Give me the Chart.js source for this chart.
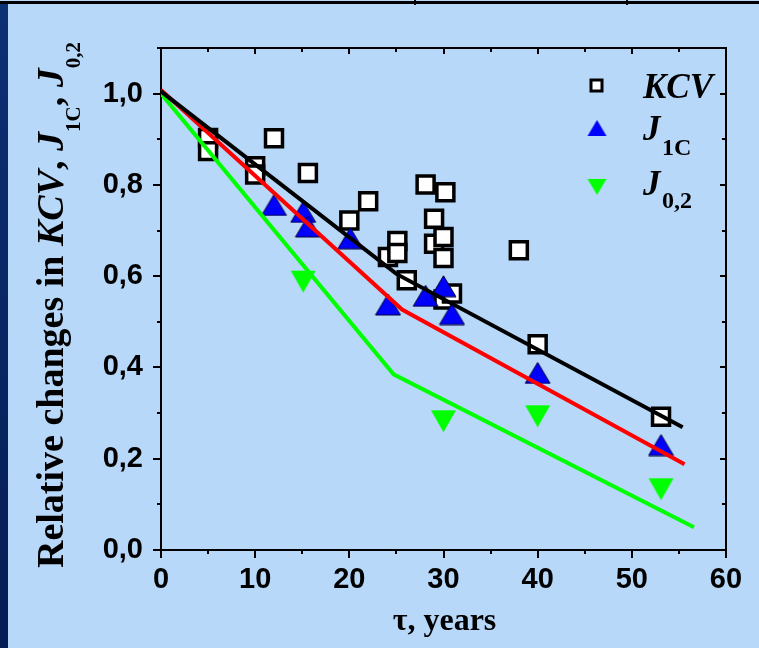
<!DOCTYPE html>
<html>
<head>
<meta charset="utf-8">
<script src="https://cdn.jsdelivr.net/npm/chart.js@4.4.1/dist/chart.umd.min.js"></script>
<style>
  html, body { margin: 0; padding: 0; }
  body { width: 759px; height: 648px; background: #b8d8fa; position: relative; overflow: hidden; }
  #sideBar { position: absolute; left: 0; top: 4px; width: 8px; height: 644px; background: linear-gradient(#0d2f74, #061d54); }
  #topLine { position: absolute; left: 0; top: 1px; width: 759px; height: 3px; background: #000; }
  .sep { position: absolute; top: 0; width: 2px; height: 5px; background: #000; }
  #wrap { position: absolute; left: 0; top: 0; width: 759px; height: 648px; }
</style>
</head>
<body>
<div id="sideBar"></div>
<div id="topLine"></div>
<div class="sep" style="left:414px"></div>
<div class="sep" style="left:626px"></div>
<div id="wrap"><canvas id="chart"></canvas></div>
<script>
// ----- DATA -----
const kcvX = [5.0, 5.0, 10.0, 10.0, 12.0, 15.6, 20.0, 22.0, 24.1, 25.1, 25.1, 26.1, 28.1, 29.0, 29.0, 30.0, 30.0, 30.0, 30.2, 30.9, 38.0, 40.0, 53.1];
const kcvY = [0.903, 0.874, 0.841, 0.823, 0.902, 0.826, 0.722, 0.764, 0.642, 0.677, 0.651, 0.591, 0.801, 0.726, 0.671, 0.686, 0.640, 0.549, 0.784, 0.562, 0.657, 0.451, 0.292];
const j1cX = [12.0, 15.1, 15.6, 20.1, 24.1, 28.1, 30.0, 30.9, 40.0, 53.1];
const j1cY = [0.756, 0.741, 0.709, 0.683, 0.538, 0.557, 0.578, 0.517, 0.388, 0.230];
const j02X = [15.1, 30.0, 40.0, 53.1];
const j02Y = [0.588, 0.282, 0.293, 0.133];

// trend lines (two linear pieces each)
const kcvFitX = [0, 25.0, 55.4];
const kcvFitY = [1.005, 0.605, 0.269];
const j1cFitX = [0, 25.6, 55.6];
const j1cFitY = [1.008, 0.527, 0.188];
const j02FitX = [0, 24.7, 56.6];
const j02FitY = [1.0, 0.385, 0.05];

const xMin = 0, xMax = 60, xStep = 10;
const yMin = 0, yMax = 1.1, yStep = 0.2;

const pts = (xs, ys) => xs.map((v, i) => ({ x: v, y: ys[i] }));

// triangle markers as small canvases so they sit centred on the value
function makeTri(w, h, fill, stroke, down) {
  const c = document.createElement('canvas');
  c.width = w + 2; c.height = h + 2;
  const g = c.getContext('2d');
  g.beginPath();
  if (down) { g.moveTo(1, 1); g.lineTo(w + 1, 1); g.lineTo(w / 2 + 1, h + 1); }
  else { g.moveTo(w / 2 + 1, 1); g.lineTo(w + 1, h + 1); g.lineTo(1, h + 1); }
  g.closePath();
  g.fillStyle = fill; g.fill();
  if (stroke) { g.strokeStyle = stroke; g.lineWidth = 1; g.stroke(); }
  return c;
}
const triUp = makeTri(25, 21, '#0000ff', '#000033', false);
const triDown = makeTri(25, 22, '#00ff00', null, true);
const triUpSmall = makeTri(19, 16, '#0000ff', null, false);
const triDownSmall = makeTri(19, 16, '#00ff00', null, true);

const SERIF = '"Liberation Serif", "Times New Roman", serif';
const SANS = '"Liberation Sans", Arial, sans-serif';

// ----- frame + ticks on all four sides -----
const axisDecor = {
  id: 'axisDecor',
  beforeDatasetsDraw(chart) {
    const { ctx, chartArea: a, scales: { x, y } } = chart;
    ctx.save();
    ctx.strokeStyle = '#000';
    ctx.lineWidth = 2;
    ctx.strokeRect(a.left, a.top, a.right - a.left, a.bottom - a.top);
    ctx.beginPath();
    for (let v = xMin; v <= xMax + 1e-9; v += xStep / 2) {
      const px = Math.round(x.getPixelForValue(v));
      const major = Math.abs(v % xStep) < 1e-6;
      ctx.moveTo(px, a.bottom); ctx.lineTo(px, a.bottom + (major ? 8 : 4));
      ctx.moveTo(px, a.top); ctx.lineTo(px, a.top + (major ? 6 : 4));
    }
    for (let k = 0; k <= 11; k++) {
      const v = k * 0.1;
      const py = Math.round(y.getPixelForValue(v));
      const major = k % 2 === 0;
      ctx.moveTo(a.left, py); ctx.lineTo(a.left - (major ? 8 : 4), py);
      ctx.moveTo(a.right, py); ctx.lineTo(a.right - (major ? 6 : 4), py);
    }
    ctx.stroke();
    ctx.restore();
  },
  afterDraw(chart) {
    const { ctx, chartArea: a } = chart;
    ctx.save();
    ctx.fillStyle = '#000';
    ctx.textBaseline = 'alphabetic';

    // x title
    ctx.font = 'bold 32px ' + SERIF;
    ctx.textAlign = 'center';
    ctx.fillText('\u03c4, years', (a.left + a.right) / 2 + 1, 630);

    // y title, rotated, with italics and subscripts
    ctx.textAlign = 'left';
    ctx.translate(63, 568);
    ctx.rotate(-Math.PI / 2);
    const big = 'bold 38px ' + SERIF, bigI = 'italic bold 38px ' + SERIF, sub = 'bold 21px ' + SERIF;
    const segs = [
      ['Relative changes in ', big, 0], ['KCV', bigI, 0], [', ', big, 0],
      ['J', bigI, 0], ['1C', sub, 17], [', ', big, 0], ['J', bigI, 0], ['0,2', sub, 17]
    ];
    let pos = 0;
    segs.forEach(([t, f, dy]) => {
      ctx.font = f;
      ctx.fillText(t, pos, dy);
      pos += ctx.measureText(t).width;
    });
    ctx.restore();

    // legend
    ctx.save();
    ctx.fillStyle = '#fff';
    ctx.strokeStyle = '#000';
    ctx.lineWidth = 3;
    ctx.fillRect(591, 80, 11, 11);
    ctx.strokeRect(591, 80, 11, 11);
    ctx.drawImage(triUpSmall, 597 - triUpSmall.width / 2, 128 - triUpSmall.height / 2);
    ctx.drawImage(triDownSmall, 597 - triDownSmall.width / 2, 187 - triDownSmall.height / 2);
    ctx.fillStyle = '#000';
    ctx.textAlign = 'left';
    ctx.font = 'italic bold 35px ' + SERIF;
    ctx.fillText('KCV', 643, 98);
    ctx.fillText('J', 643, 140);
    ctx.fillText('J', 643, 195);
    ctx.font = 'bold 24px ' + SERIF;
    ctx.fillText('1C', 662, 155);
    ctx.fillText('0,2', 662, 208);
    ctx.restore();
  }
};

new Chart(document.getElementById('chart').getContext('2d'), {
  type: 'scatter',
  data: {
    datasets: [
      {
        label: 'KCV fit', data: pts(kcvFitX, kcvFitY), showLine: true,
        borderColor: '#000', borderWidth: 4, pointRadius: 0, order: 0
      },
      {
        label: 'J1C fit', data: pts(j1cFitX, j1cFitY), showLine: true,
        borderColor: '#ff0000', borderWidth: 4, pointRadius: 0, order: 0
      },
      {
        label: 'J0,2 fit', data: pts(j02FitX, j02FitY), showLine: true,
        borderColor: '#00ff00', borderWidth: 4, pointRadius: 0, order: 0
      },
      {
        label: 'J1C', data: pts(j1cX, j1cY), pointStyle: triUp, order: 1
      },
      {
        label: 'J0,2', data: pts(j02X, j02Y), pointStyle: triDown, order: 1
      },
      {
        label: 'KCV', data: pts(kcvX, kcvY), pointStyle: 'rect', pointRadius: 12,
        backgroundColor: '#fff', borderColor: '#000', borderWidth: 3.5, order: 2
      }
    ]
  },
  options: {
    responsive: true,
    maintainAspectRatio: false,
    animation: false,
    layout: { padding: { left: 0, top: 48, right: 33, bottom: 0 } },
    plugins: { legend: { display: false }, tooltip: { enabled: false } },
    scales: {
      x: {
        type: 'linear', min: xMin, max: xMax,
        grid: { display: false, drawTicks: false },
        border: { display: false },
        ticks: {
          stepSize: xStep, padding: 13, color: '#000',
          font: { family: SANS, size: 29, weight: 'bold' }
        },
        afterFit: (s) => { s.height = 98; }
      },
      y: {
        type: 'linear', min: yMin, max: yMax,
        grid: { display: false, drawTicks: false },
        border: { display: false },
        ticks: {
          stepSize: yStep, includeBounds: false, padding: 18, color: '#000',
          font: { family: SANS, size: 29, weight: 'bold' },
          callback: (v) => v.toFixed(1).replace('.', ',')
        },
        afterFit: (s) => { s.width = 161; }
      }
    }
  },
  plugins: [axisDecor]
});
</script>
</body>
</html>
